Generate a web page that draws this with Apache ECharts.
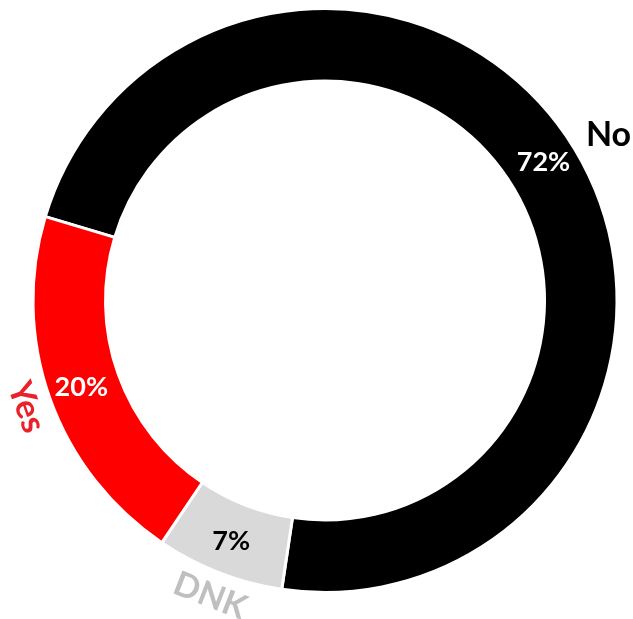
<!DOCTYPE html>
<html>
<head>
<meta charset="utf-8">
<script src="https://cdn.jsdelivr.net/npm/echarts@6/dist/echarts.min.js"></script>
<style>
  html, body { margin: 0; padding: 0; background: #ffffff; }
  #chart { width: 633px; height: 619px; }
</style>
</head>
<body>
<div id="chart"></div>
<script>
// Survey answers, in clockwise order around the ring
const categories = ['No', 'DNK', 'Yes'];
const shares = [72, 7, 20];

// Styling per answer
const sliceColors = ['#000000', '#d9d9d9', '#ff0000'];
const shareLabelColors = ['#ffffff', '#000000', '#ffffff'];
const nameLabelColors = ['#000000', '#bfbfbf', '#e8212b'];
const nameLabelGap = [17, 25, 25];          // distance outside the ring
const nameLabelFollowsRing = [false, true, true];

const CENTER = [325, 300.5];
const RADIUS = [219.5, 292];
const START_ANGLE = 163.3;
const FONT = 'Lato, "Open Sans", sans-serif';

const total = shares.reduce((a, b) => a + b, 0);

// Middle angle (degrees, counter-clockwise from east) of a slice
function midAngle(i) {
  let before = 0;
  for (let k = 0; k < i; k++) before += shares[k];
  return START_ANGLE - 360 * (before + shares[i] / 2) / total;
}

const ringData = categories.map((name, i) => ({
  name: name,
  value: shares[i],
  itemStyle: { color: sliceColors[i] },
  label: { color: shareLabelColors[i] }
}));

const nameData = categories.map((name, i) => ({
  name: name,
  value: shares[i],
  label: { color: nameLabelColors[i] }
}));

const chart = echarts.init(document.getElementById('chart'), null, { renderer: 'canvas' });

chart.setOption({
  animation: false,
  backgroundColor: '#ffffff',
  series: [
    {
      type: 'pie',
      center: CENTER,
      radius: RADIUS,
      startAngle: START_ANGLE,
      clockwise: true,
      avoidLabelOverlap: false,
      silent: true,
      itemStyle: { borderColor: '#ffffff', borderWidth: 3 },
      label: {
        show: true,
        position: 'inside',
        formatter: '{c}%',
        fontFamily: FONT,
        fontWeight: 'bold',
        fontSize: 27
      },
      labelLine: { show: false },
      emphasis: { disabled: true },
      data: ringData
    },
    {
      // invisible twin ring carrying the answer names
      type: 'pie',
      center: CENTER,
      radius: RADIUS,
      startAngle: START_ANGLE,
      clockwise: true,
      avoidLabelOverlap: false,
      silent: true,
      itemStyle: { color: 'transparent', borderWidth: 0 },
      label: {
        show: true,
        position: 'outside',
        formatter: '{b}',
        fontFamily: FONT,
        fontWeight: 'bold',
        fontSize: 34
      },
      labelLine: { show: false },
      emphasis: { disabled: true },
      labelLayout: function (p) {
        const i = p.dataIndex;
        const deg = midAngle(i);
        const a = deg * Math.PI / 180;
        const r = RADIUS[1] + nameLabelGap[i];
        const x = CENTER[0] + r * Math.cos(a);
        const y = CENTER[1] - r * Math.sin(a);
        if (nameLabelFollowsRing[i]) {
          return { x: x, y: y, rotate: deg + 90, align: 'center', verticalAlign: 'middle' };
        }
        return { x: x, y: y, rotate: 0, align: 'left', verticalAlign: 'middle' };
      },
      data: nameData
    }
  ]
});
</script>
</body>
</html>
